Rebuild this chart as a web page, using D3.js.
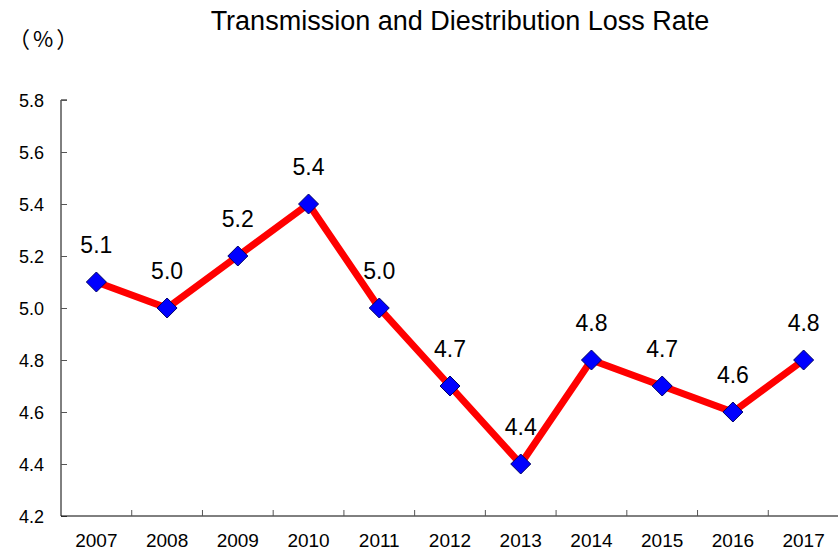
<!DOCTYPE html>
<html>
<head>
<meta charset="utf-8">
<script src="https://cdn.jsdelivr.net/npm/d3@7"></script>
<style>
  body { margin: 0; background: #fff; }
  text { font-family: "Liberation Sans", Arial, sans-serif; fill: #000; }
</style>
</head>
<body>
<svg id="chart" width="838" height="553"></svg>
<script>
// data
const years = ["2007", "2008", "2009", "2010", "2011", "2012", "2013", "2014", "2015", "2016", "2017"];
const lossRate = [5.1, 5.0, 5.2, 5.4, 5.0, 4.7, 4.4, 4.8, 4.7, 4.6, 4.8];
const yTicks = [4.2, 4.4, 4.6, 4.8, 5.0, 5.2, 5.4, 5.6, 5.8];

const svg = d3.select("#chart");
const plotLeft = 61, plotRight = 839, plotTop = 100, plotBottom = 516;

const x = d3.scaleBand().domain(years).range([plotLeft, plotRight]);
const y = d3.scaleLinear().domain([4.2, 5.8]).range([plotBottom, plotTop]);

// title
svg.append("text")
    .attr("x", 460).attr("y", 30)
    .attr("text-anchor", "middle")
    .attr("font-size", 27)
    .text("Transmission and Diestribution Loss Rate");

svg.append("text")
    .attr("x", 8).attr("y", 47)
    .attr("font-size", 22)
    .attr("letter-spacing", 3)
    .style("font-family", "'Noto Sans CJK JP', sans-serif")
    .text("（%）");

// y axis, ticks pointing inward
const yAxis = svg.append("g")
    .attr("transform", `translate(${plotLeft},0)`)
    .call(d3.axisRight(y).tickValues(yTicks).tickSize(6).tickFormat(""));
yAxis.select(".domain").attr("d", `M6,${plotTop}H0V${plotBottom}`).attr("stroke", "#000");
yAxis.selectAll(".tick line").attr("stroke", "#555");

svg.append("g").selectAll("text")
    .data(yTicks)
    .join("text")
    .attr("x", 44).attr("y", d => y(d) + 7)
    .attr("text-anchor", "end")
    .attr("font-size", 18)
    .text(d => d.toFixed(1));

// x axis with tick marks between categories
svg.append("line")
    .attr("x1", plotLeft).attr("x2", plotRight)
    .attr("y1", plotBottom).attr("y2", plotBottom)
    .attr("stroke", "#000");
svg.append("g").selectAll("line")
    .data(years.slice(1))
    .join("line")
    .attr("x1", d => x(d)).attr("x2", d => x(d))
    .attr("y1", plotBottom).attr("y2", plotBottom - 6)
    .attr("stroke", "#555");
svg.append("g").selectAll("text")
    .data(years)
    .join("text")
    .attr("x", d => x(d) + x.bandwidth() / 2)
    .attr("y", 547)
    .attr("text-anchor", "middle")
    .attr("font-size", 19)
    .text(d => d);

// line
const pts = years.map((yr, i) => ({ yr, v: lossRate[i] }));
const cx = d => x(d.yr) + x.bandwidth() / 2;

svg.append("path")
    .datum(pts)
    .attr("fill", "none")
    .attr("stroke", "#ff0000")
    .attr("stroke-width", 7)
    .attr("d", d3.line().x(cx).y(d => y(d.v)));

svg.append("g").selectAll("path")
    .data(pts)
    .join("path")
    .attr("transform", d => `translate(${cx(d)},${y(d.v)})`)
    .attr("d", "M0,-10L10,0L0,10L-10,0Z")
    .attr("fill", "#0000ff")
    .attr("stroke", "#000066")
    .attr("stroke-width", 1);

// value labels
svg.append("g").selectAll("text")
    .data(pts)
    .join("text")
    .attr("x", cx)
    .attr("y", d => y(d.v) - 29)
    .attr("text-anchor", "middle")
    .attr("font-size", 23)
    .text(d => d.v.toFixed(1));
</script>
</body>
</html>
